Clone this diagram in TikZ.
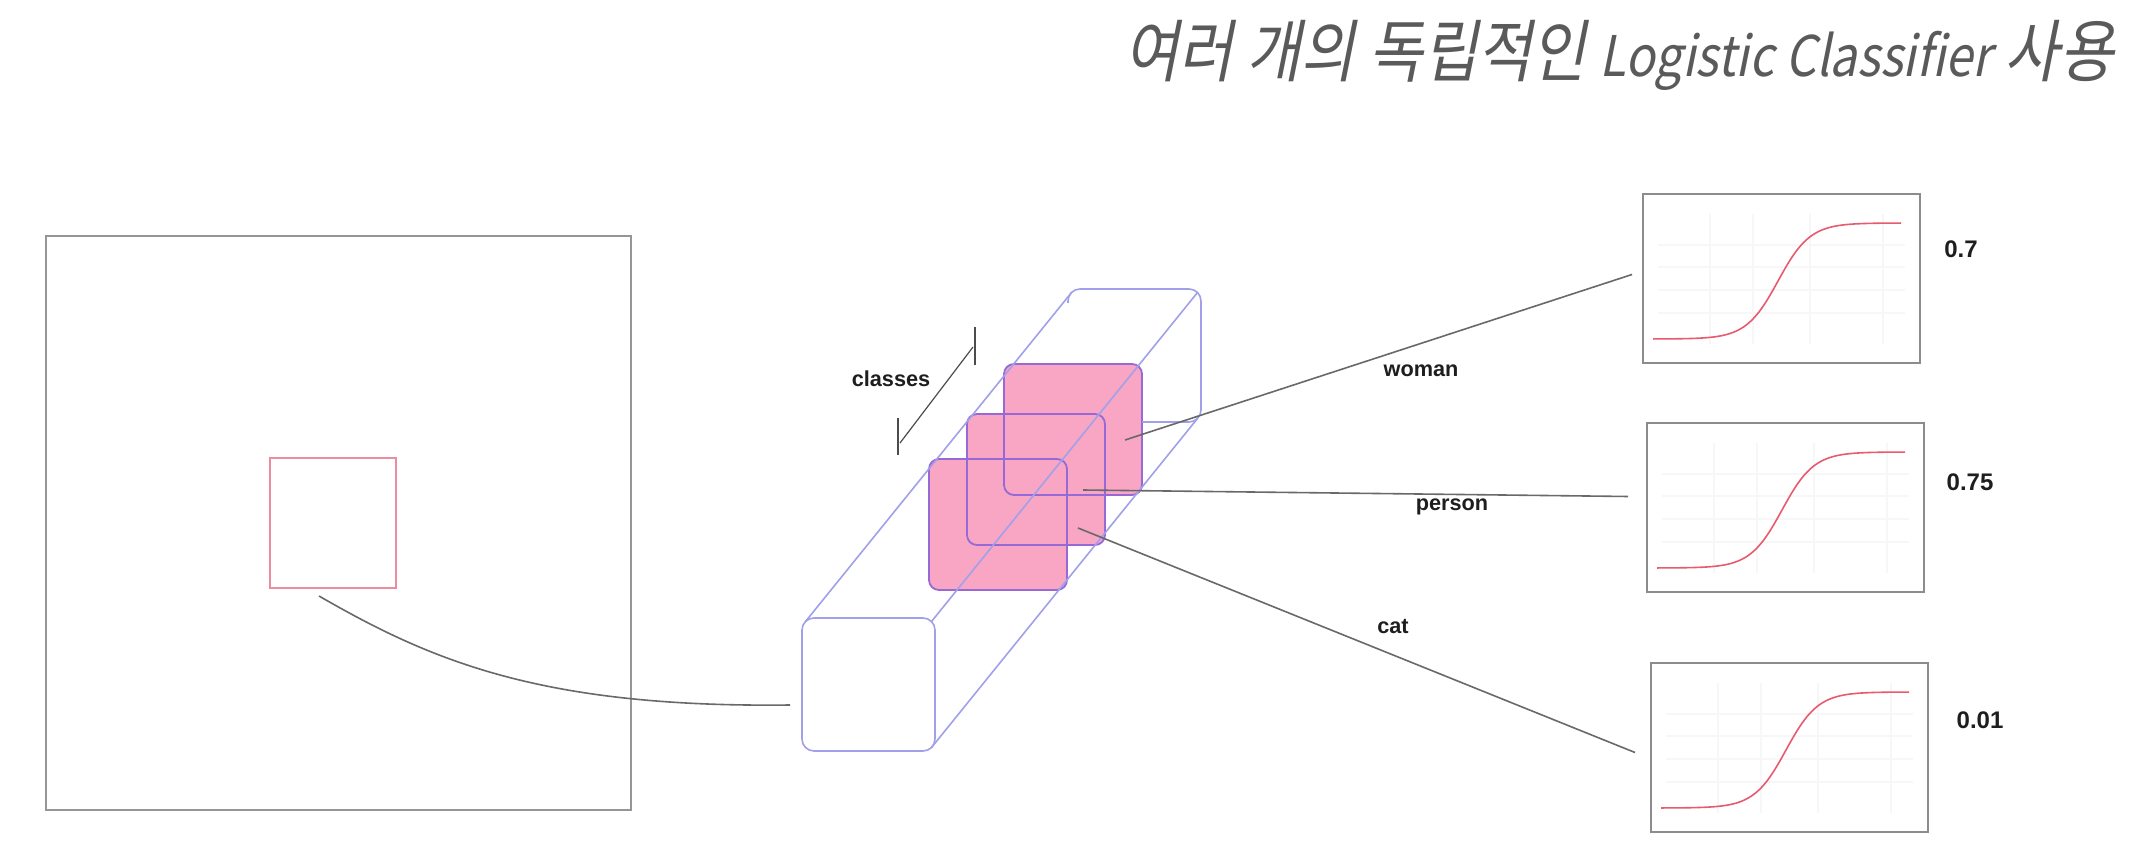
\documentclass[tikz,border=0pt]{standalone}
\usepackage{fontspec}
\setmainfont{Liberation Sans}
\newfontfamily\krfont[FakeSlant=0.2,FakeStretch=0.87]{Noto Sans CJK KR}
\usetikzlibrary{calc}
\definecolor{framegray}{RGB}{150,150,150}
\definecolor{boxgray}{RGB}{140,140,140}
\definecolor{linkgray}{RGB}{105,105,105}
\definecolor{cubeblue}{RGB}{160,160,235}
\definecolor{pinkfill}{RGB}{248,166,195}
\definecolor{pinkedge}{RGB}{150,105,215}
\definecolor{patchred}{RGB}{235,140,160}
\definecolor{sigred}{RGB}{232,90,110}
\definecolor{titlegray}{RGB}{90,90,90}
\definecolor{labelblack}{RGB}{30,30,30}
\definecolor{gridfaint}{RGB}{247,247,247}
\tikzset{
  frame/.style={draw=framegray, line width=1.4pt, inner sep=0pt, outer sep=0pt, anchor=north west},
  patchbox/.style={draw=patchred, line width=0.6pt, inner sep=0pt, outer sep=0pt, anchor=north west},
  plotbox/.style={draw=boxgray, line width=1.1pt, inner sep=0pt, outer sep=0pt, anchor=north west, minimum width=138.5pt, minimum height=84.5pt},
  cubeline/.style={draw=cubeblue, line width=0.8pt},
  facebox/.style={draw=cubeblue, line width=0.8pt, rounded corners=6pt, fill=white, inner sep=0pt, outer sep=0pt, anchor=north west, minimum width=66.5pt, minimum height=66.5pt},
  pinksq/.style={fill=pinkfill, rounded corners=5pt, inner sep=0pt, outer sep=0pt, anchor=north west, minimum width=69pt, minimum height=65.5pt},
  pinkborder/.style={draw=pinkedge, line width=0.9pt, rounded corners=5pt},
  link/.style={draw=linkgray, line width=0.8pt},
  bracket/.style={draw=black!70, line width=0.6pt},
  lbl/.style={text=labelblack, font=\bfseries\fontsize{10.85pt}{12pt}\selectfont, inner sep=0pt, anchor=base},
  val/.style={text=labelblack, font=\bfseries\fontsize{12pt}{14pt}\selectfont, inner sep=0pt, anchor=base},
  sig/.style={draw=sigred, line width=0.8pt},
  gridln/.style={draw=gridfaint, line width=0.6pt}
}
\begin{document}
\begin{tikzpicture}[x=0.5pt,y=-0.5pt]
\useasboundingbox (0,0) rectangle (2150,860);
\fill[white] (0,0) rectangle (2150,860);

% title
\node[anchor=base east, text=titlegray, inner sep=0pt] (title) at (2114,77)
  {\krfont\fontsize{34pt}{34pt}\selectfont 여러 개의 독립적인 {\fontsize{28pt}{28pt}\selectfont Logistic Classifier} 사용};

% input image and patch
\node[frame, minimum width=292.5pt, minimum height=287pt] (img) at (46,236) {};
\node[patchbox, minimum width=63pt, minimum height=65pt] (patch) at (270,458) {};

% cube front face
\node[facebox] (front) at (802,618) {};
\coordinate (btl) at ($(front.north west)+(266,-329)$);
\coordinate (btr) at ($(front.north east)+(266,-329)$);
\coordinate (bbr) at ($(front.south east)+(266,-329)$);

% pink class slices (fills)
\node[pinksq] (sq1) at (929,459) {};
\node[pinksq] (sq2) at (967,414) {};
\node[pinksq] (sq3) at (1004,364) {};
\foreach \s in {sq1,sq2,sq3}{
  \draw[pinkborder] (\s.north west) rectangle (\s.south east);
}

% cube edges
\draw[cubeline, rounded corners=6pt] ($(btl)+(0,14)$) -- (btl) -- (btr) -- (bbr) -- (sq3.east |- bbr);
\draw[cubeline] ($(front.north west)+(3.5,3.5)$) -- ($(btl)+(3.5,3.5)$);
\draw[cubeline] ($(front.north east)+(-3.5,3.5)$) -- ($(btr)+(-3.5,3.5)$);
\draw[cubeline] ($(front.south east)+(-3.5,-3.5)$) -- ($(bbr)+(-3.5,-3.5)$);

% classes bracket
\coordinate (cb1) at (900,443);
\coordinate (cb2) at (973,347);
\draw[bracket] (cb1) -- (cb2);
\draw[bracket] (898,418) -- (898,455);
\draw[bracket] (975,327) -- (975,365);
\node[lbl] (classes) at (891,387) {classes};

% plots
\node[plotbox] (p1) at (1643,194) {};
\node[plotbox] (p2) at (1647,423) {};
\node[plotbox] (p3) at (1651,663) {};
\foreach \b in {p1,p2,p3}{
  \begin{scope}[shift={(\b.north west)}]
    \foreach \gx in {67,110,167,240} \draw[gridln] (\gx,20) -- (\gx,150);
    \foreach \gy in {51,73,96,119} \draw[gridln] (15,\gy) -- (262,\gy);
    \draw[sig] plot[domain=10:258,samples=120,smooth] ({\x},{145-116/(1+exp(-(\x-135)/16))});
  \end{scope}
}

% connectors
\coordinate (cs) at (319,596);
\coordinate (ce) at (790,705);
\draw[link] (cs) .. controls (430,660) and (540,708) .. (ce);

\coordinate (w1) at (1125,440);
\coordinate (w2) at ($(p1.west)+(-11,-4)$);
\coordinate (pa) at (1083,490);
\coordinate (pb) at ($(p2.west)+(-19,-11)$);
\coordinate (ca) at (1078,528);
\coordinate (cb) at ($(p3.west)+(-16,5)$);
\draw[link] (w1) -- (w2);
\draw[link] (pa) -- (pb);
\draw[link] (ca) -- (cb);

\node[lbl] (woman) at (1421,377) {woman};
\node[lbl] (person) at (1452,510) {person};
\node[lbl] (cat) at (1393,633) {cat};

\node[val] (v1) at (1961,258) {0.7};
\node[val] (v2) at (1970,490) {0.75};
\node[val] (v3) at (1980,728) {0.01};
\end{tikzpicture}
\end{document}
